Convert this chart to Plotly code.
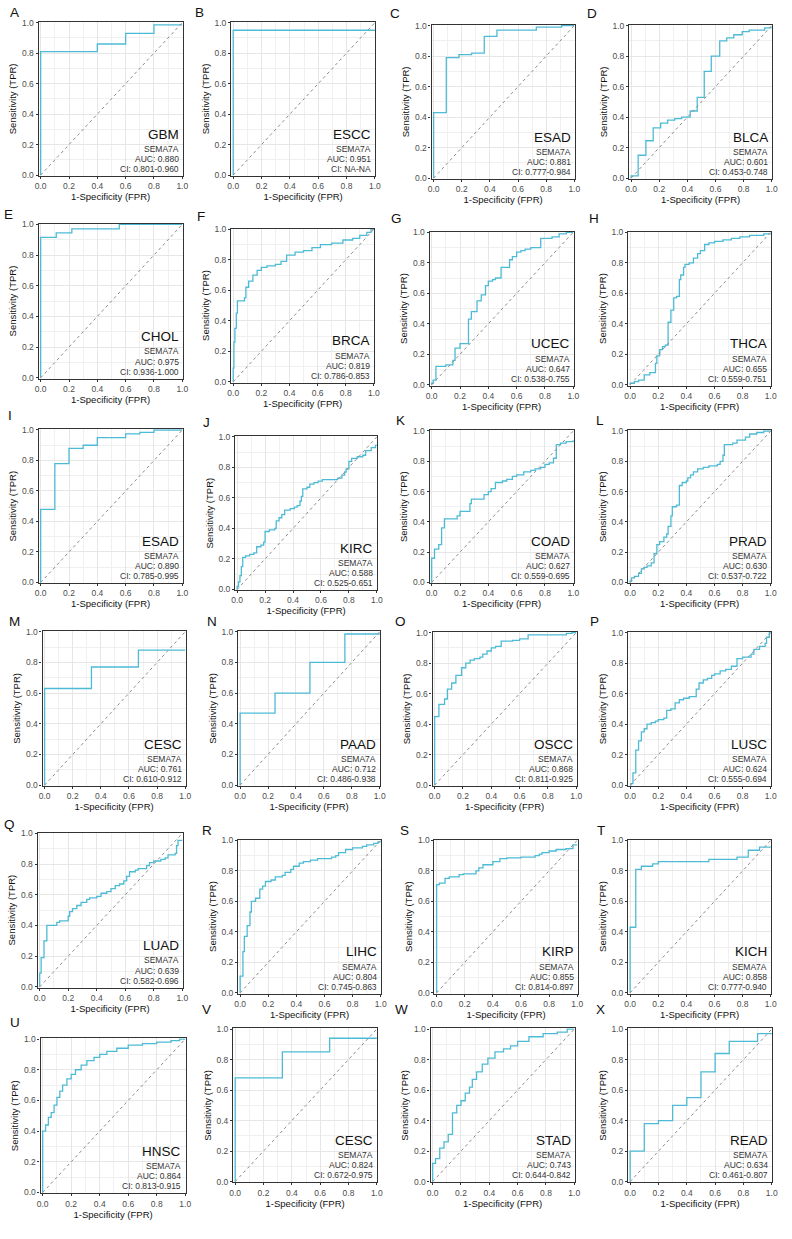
import plotly.graph_objects as go

# ---------------- data ----------------
letters = list("ABCDEFGHIJKLMNOPQRSTUVWX")
cancers = ["GBM", "ESCC", "ESAD", "BLCA", "CHOL", "BRCA", "UCEC", "THCA",
           "ESAD", "KIRC", "COAD", "PRAD", "CESC", "PAAD", "OSCC", "LUSC",
           "LUAD", "LIHC", "KIRP", "KICH", "HNSC", "CESC", "STAD", "READ"]
gene = "SEMA7A"
auc = ["0.880", "0.951", "0.881", "0.601", "0.975", "0.819", "0.647", "0.655",
       "0.890", "0.588", "0.627", "0.630", "0.761", "0.712", "0.868", "0.624",
       "0.639", "0.804", "0.855", "0.858", "0.864", "0.824", "0.743", "0.634"]
ci = ["0.801-0.960", "NA-NA", "0.777-0.984", "0.453-0.748", "0.936-1.000",
      "0.786-0.853", "0.538-0.755", "0.559-0.751", "0.785-0.995", "0.525-0.651",
      "0.559-0.695", "0.537-0.722", "0.610-0.912", "0.486-0.938", "0.811-0.925",
      "0.555-0.694", "0.582-0.696", "0.745-0.863", "0.814-0.897", "0.777-0.940",
      "0.813-0.915", "0.672-0.975", "0.644-0.842", "0.461-0.807"]

fpr_A = [0, 0, 0.4, 0.6, 0.8, 1.0]
tpr_A = [0, 0.81, 0.86, 0.93, 0.985, 0.985]
fpr_B = [0, 0, 1.0]
tpr_B = [0, 0.95, 0.95]
fpr_C = [0, 0, 0.09, 0.18, 0.27, 0.36, 0.45, 0.73, 0.91, 1.0]
tpr_C = [0, 0.43, 0.79, 0.81, 0.82, 0.93, 0.97, 0.99, 1.0, 1.0]
fpr_D = [0, 0, 0.05, 0.105, 0.157, 0.21, 0.26, 0.31, 0.36, 0.42, 0.47, 0.52, 0.57, 0.63, 0.68, 0.73, 0.79, 0.84, 0.95, 1.0]
tpr_D = [0, 0.015, 0.15, 0.245, 0.33, 0.36, 0.38, 0.39, 0.40, 0.44, 0.53, 0.70, 0.80, 0.90, 0.92, 0.94, 0.96, 0.97, 0.985, 0.985]
fpr_E = [0, 0, 0.11, 0.22, 0.555, 1.0]
tpr_E = [0, 0.915, 0.945, 0.97, 1.0, 1.0]
fpr_F = [0, 0, 0.005, 0.012, 0.022, 0.03, 0.08, 0.09, 0.11, 0.14, 0.17, 0.2, 0.24, 0.3, 0.34, 0.38, 0.44, 0.5, 0.56, 0.62, 0.7, 0.78, 0.85, 0.9, 0.95, 0.98, 1.0]
tpr_F = [0, 0.09, 0.26, 0.35, 0.45, 0.53, 0.55, 0.62, 0.66, 0.70, 0.73, 0.75, 0.76, 0.77, 0.79, 0.83, 0.85, 0.86, 0.88, 0.90, 0.91, 0.93, 0.94, 0.96, 0.98, 1.0, 1.0]
fpr_G = [0, 0, 0.01, 0.03, 0.1, 0.15, 0.165, 0.2, 0.26, 0.28, 0.32, 0.35, 0.38, 0.4, 0.43, 0.45, 0.49, 0.55, 0.57, 0.6, 0.63, 0.66, 0.7, 0.77, 0.85, 0.9, 0.95, 1.0]
tpr_G = [0, 0.01, 0.03, 0.12, 0.13, 0.16, 0.24, 0.27, 0.43, 0.48, 0.55, 0.59, 0.65, 0.68, 0.69, 0.70, 0.77, 0.82, 0.84, 0.87, 0.88, 0.89, 0.90, 0.96, 0.97, 0.99, 1.0, 1.0]
fpr_H = [0, 0, 0.03, 0.06, 0.1, 0.14, 0.18, 0.19, 0.21, 0.23, 0.25, 0.27, 0.29, 0.31, 0.33, 0.35, 0.36, 0.38, 0.39, 0.42, 0.45, 0.48, 0.5, 0.53, 0.56, 0.6, 0.66, 0.72, 0.78, 0.85, 0.95, 1.0]
tpr_H = [0, 0.01, 0.02, 0.03, 0.065, 0.08, 0.14, 0.19, 0.23, 0.25, 0.26, 0.41, 0.49, 0.57, 0.58, 0.69, 0.72, 0.77, 0.79, 0.80, 0.83, 0.86, 0.88, 0.92, 0.93, 0.94, 0.95, 0.96, 0.97, 0.98, 0.99, 0.99]
fpr_I = [0, 0, 0.1, 0.2, 0.3, 0.4, 0.6, 0.7, 0.8, 1.0]
tpr_I = [0, 0.48, 0.78, 0.88, 0.90, 0.95, 0.975, 0.985, 1.0, 1.0]
fpr_J = [0, 0, 0.01, 0.02, 0.03, 0.04, 0.06, 0.09, 0.12, 0.14, 0.17, 0.19, 0.2, 0.23, 0.27, 0.28, 0.3, 0.32, 0.34, 0.38, 0.41, 0.43, 0.45, 0.46, 0.47, 0.5, 0.52, 0.55, 0.58, 0.61, 0.72, 0.75, 0.77, 0.78, 0.8, 0.82, 0.86, 0.9, 0.92, 0.96, 0.99, 1.0]
tpr_J = [0, 0.02, 0.05, 0.09, 0.15, 0.21, 0.22, 0.23, 0.24, 0.28, 0.29, 0.31, 0.38, 0.39, 0.40, 0.45, 0.47, 0.49, 0.52, 0.53, 0.54, 0.55, 0.58, 0.61, 0.66, 0.67, 0.69, 0.70, 0.71, 0.72, 0.73, 0.75, 0.77, 0.79, 0.84, 0.86, 0.87, 0.88, 0.91, 0.93, 0.945, 0.945]
fpr_K = [0, 0, 0.02, 0.05, 0.07, 0.09, 0.18, 0.2, 0.27, 0.28, 0.37, 0.4, 0.42, 0.45, 0.5, 0.53, 0.57, 0.6, 0.65, 0.7, 0.73, 0.77, 0.8, 0.83, 0.86, 0.88, 0.91, 0.95, 1.0]
tpr_K = [0, 0.16, 0.22, 0.25, 0.36, 0.42, 0.44, 0.47, 0.52, 0.55, 0.58, 0.60, 0.62, 0.66, 0.67, 0.68, 0.70, 0.71, 0.73, 0.74, 0.75, 0.76, 0.78, 0.79, 0.82, 0.91, 0.92, 0.93, 0.94]
fpr_L = [0, 0, 0.01, 0.03, 0.06, 0.08, 0.1, 0.12, 0.15, 0.17, 0.19, 0.21, 0.24, 0.26, 0.27, 0.29, 0.3, 0.33, 0.35, 0.37, 0.4, 0.41, 0.43, 0.45, 0.48, 0.52, 0.56, 0.62, 0.64, 0.66, 0.67, 0.73, 0.76, 0.82, 0.85, 0.9, 0.95, 1.0]
tpr_L = [0, 0.01, 0.03, 0.04, 0.06, 0.09, 0.10, 0.11, 0.13, 0.19, 0.25, 0.27, 0.30, 0.32, 0.37, 0.44, 0.50, 0.51, 0.64, 0.66, 0.67, 0.69, 0.71, 0.73, 0.75, 0.76, 0.77, 0.78, 0.80, 0.84, 0.91, 0.92, 0.94, 0.96, 0.98, 0.99, 1.0, 1.0]
fpr_M = [0, 0, 0.333, 0.667, 1.0]
tpr_M = [0, 0.63, 0.77, 0.88, 0.88]
fpr_N = [0, 0, 0.25, 0.5, 0.75, 1.0]
tpr_N = [0, 0.47, 0.60, 0.80, 0.985, 0.985]
fpr_O = [0, 0, 0.03, 0.07, 0.09, 0.12, 0.15, 0.19, 0.22, 0.25, 0.28, 0.32, 0.34, 0.37, 0.4, 0.43, 0.47, 0.55, 0.6, 0.66, 0.93, 0.97, 1.0]
tpr_O = [0, 0.45, 0.53, 0.565, 0.63, 0.67, 0.72, 0.77, 0.80, 0.82, 0.83, 0.84, 0.86, 0.88, 0.90, 0.91, 0.945, 0.95, 0.96, 0.985, 0.995, 1.0, 1.0]
fpr_P = [0, 0.005, 0.02, 0.04, 0.06, 0.08, 0.1, 0.12, 0.15, 0.18, 0.2, 0.24, 0.26, 0.29, 0.32, 0.35, 0.38, 0.42, 0.47, 0.49, 0.52, 0.55, 0.58, 0.6, 0.64, 0.68, 0.72, 0.76, 0.8, 0.86, 0.88, 0.92, 0.96, 0.97, 0.99, 1.0]
tpr_P = [0, 0.01, 0.08, 0.23, 0.29, 0.35, 0.37, 0.40, 0.41, 0.42, 0.43, 0.44, 0.49, 0.50, 0.54, 0.56, 0.57, 0.58, 0.63, 0.67, 0.69, 0.70, 0.72, 0.73, 0.75, 0.76, 0.78, 0.83, 0.84, 0.86, 0.89, 0.91, 0.93, 0.97, 1.0, 1.0]
fpr_Q = [0, 0, 0.01, 0.03, 0.05, 0.12, 0.14, 0.2, 0.21, 0.23, 0.26, 0.29, 0.33, 0.35, 0.4, 0.43, 0.47, 0.5, 0.53, 0.56, 0.59, 0.61, 0.63, 0.67, 0.69, 0.75, 0.77, 0.8, 0.85, 0.88, 0.9, 0.95, 0.96, 0.97, 1.0]
tpr_Q = [0, 0.09, 0.19, 0.30, 0.40, 0.42, 0.43, 0.46, 0.49, 0.51, 0.53, 0.55, 0.57, 0.58, 0.59, 0.61, 0.62, 0.64, 0.66, 0.67, 0.69, 0.72, 0.75, 0.76, 0.77, 0.79, 0.81, 0.82, 0.83, 0.84, 0.86, 0.87, 0.92, 0.955, 0.955]
fpr_R = [0, 0, 0.02, 0.03, 0.05, 0.07, 0.08, 0.11, 0.14, 0.16, 0.18, 0.22, 0.25, 0.3, 0.32, 0.36, 0.38, 0.42, 0.45, 0.5, 0.55, 0.65, 0.68, 0.7, 0.75, 0.8, 0.87, 0.9, 0.95, 0.98, 1.0]
tpr_R = [0, 0.11, 0.27, 0.37, 0.44, 0.53, 0.60, 0.62, 0.68, 0.70, 0.73, 0.74, 0.76, 0.77, 0.79, 0.81, 0.83, 0.85, 0.86, 0.87, 0.88, 0.89, 0.90, 0.92, 0.94, 0.95, 0.96, 0.97, 0.98, 0.99, 0.99]
fpr_S = [0, 0, 0.02, 0.06, 0.09, 0.16, 0.19, 0.28, 0.3, 0.33, 0.4, 0.45, 0.5, 0.6, 0.7, 0.73, 0.75, 0.8, 0.85, 0.92, 0.97, 1.0]
tpr_S = [0, 0.71, 0.72, 0.75, 0.76, 0.775, 0.78, 0.80, 0.82, 0.84, 0.86, 0.88, 0.885, 0.89, 0.90, 0.91, 0.92, 0.93, 0.94, 0.945, 0.97, 0.97]
fpr_T = [0, 0, 0.04, 0.08, 0.16, 0.2, 0.56, 0.76, 0.84, 0.92, 1.0]
tpr_T = [0, 0.43, 0.81, 0.83, 0.845, 0.86, 0.875, 0.89, 0.935, 0.955, 0.955]
fpr_U = [0, 0, 0.02, 0.04, 0.06, 0.08, 0.1, 0.12, 0.14, 0.17, 0.2, 0.23, 0.27, 0.31, 0.36, 0.4, 0.45, 0.52, 0.6, 0.7, 0.8, 0.9, 0.96, 1.0]
tpr_U = [0, 0.40, 0.44, 0.49, 0.52, 0.57, 0.62, 0.66, 0.70, 0.74, 0.77, 0.80, 0.83, 0.86, 0.88, 0.90, 0.92, 0.94, 0.96, 0.97, 0.98, 0.99, 1.0, 1.0]
fpr_V = [0, 0, 0.333, 0.667, 1.0]
tpr_V = [0, 0.68, 0.85, 0.94, 0.94]
fpr_W = [0, 0, 0.02, 0.05, 0.08, 0.11, 0.14, 0.17, 0.2, 0.23, 0.26, 0.28, 0.31, 0.35, 0.39, 0.44, 0.5, 0.55, 0.6, 0.68, 0.78, 0.88, 0.95, 1.0]
tpr_W = [0, 0.12, 0.15, 0.22, 0.26, 0.31, 0.45, 0.50, 0.53, 0.58, 0.62, 0.67, 0.72, 0.77, 0.81, 0.85, 0.87, 0.89, 0.92, 0.95, 0.97, 0.98, 1.0, 1.0]
fpr_X = [0, 0, 0.1, 0.2, 0.3, 0.4, 0.5, 0.6, 0.7, 0.9, 1.0]
tpr_X = [0, 0.20, 0.38, 0.40, 0.50, 0.55, 0.72, 0.84, 0.92, 0.97, 0.97]

curves = {
    "A": (fpr_A, tpr_A), "B": (fpr_B, tpr_B), "C": (fpr_C, tpr_C), "D": (fpr_D, tpr_D),
    "E": (fpr_E, tpr_E), "F": (fpr_F, tpr_F), "G": (fpr_G, tpr_G), "H": (fpr_H, tpr_H),
    "I": (fpr_I, tpr_I), "J": (fpr_J, tpr_J), "K": (fpr_K, tpr_K), "L": (fpr_L, tpr_L),
    "M": (fpr_M, tpr_M), "N": (fpr_N, tpr_N), "O": (fpr_O, tpr_O), "P": (fpr_P, tpr_P),
    "Q": (fpr_Q, tpr_Q), "R": (fpr_R, tpr_R), "S": (fpr_S, tpr_S), "T": (fpr_T, tpr_T),
    "U": (fpr_U, tpr_U), "V": (fpr_V, tpr_V), "W": (fpr_W, tpr_W), "X": (fpr_X, tpr_X),
}

# ---------------- layout (pixel boxes: x0, x1, y0, y1) ----------------
W, H = 792, 1239
boxes = [
    (35, 181, 18, 173), (230, 376, 18, 173), (433, 578, 21, 176), (633, 778, 21, 176),
    (35, 181, 221, 377), (230, 375, 226, 381), (431, 577, 229, 384), (632, 777, 229, 384),
    (35, 181, 428, 583), (234, 378, 435, 590), (431, 577, 429, 583), (632, 777, 429, 583),
    (39, 184, 631, 787), (237, 381, 631, 787), (434, 580, 632, 787), (632, 777, 632, 787),
    (34, 181, 834, 990), (237, 382, 841, 996), (436, 581, 841, 996), (632, 777, 841, 996),
    (37, 184, 1041, 1197), (232, 378, 1031, 1186), (432, 578, 1031, 1186), (632, 778, 1031, 1186),
]
label_pos = [
    (11, 9), (198, 9), (396, 10), (596, 10),
    (5, 212), (200, 214), (398, 216), (598, 216),
    (6, 414), (205, 421), (402, 419), (604, 419),
    (11, 622), (211, 622), (402, 622), (598, 622),
    (6, 826), (206, 832), (406, 832), (605, 832),
    (11, 1025), (205, 1012), (403, 1012), (604, 1012),
]

FONT = "Liberation Sans, Arial, sans-serif"
CURVE = "#4DBBD5"

fig = go.Figure()
annotations = []
layout = dict(width=W, height=H, margin=dict(l=0, r=0, t=0, b=0),
              paper_bgcolor="white", plot_bgcolor="white", showlegend=False,
              font=dict(family=FONT, color="#222222"))

for i, L in enumerate(letters):
    n = i + 1
    xs = "" if n == 1 else str(n)
    x0, x1, y0, y1 = boxes[i]
    fx, ty = curves[L]
    fig.add_trace(go.Scatter(x=fx, y=ty, mode="lines", line=dict(color=CURVE, width=1.3, shape="hv"),
                             xaxis="x" + xs, yaxis="y" + xs, hoverinfo="skip"))
    fig.add_trace(go.Scatter(x=[0, 1], y=[0, 1], mode="lines",
                             line=dict(color="#8c8c8c", width=1, dash="3px,3px"),
                             xaxis="x" + xs, yaxis="y" + xs, hoverinfo="skip"))
    common = dict(showline=True, mirror=True, linecolor="#333333", linewidth=1.1,
                  ticks="outside", ticklen=2, tickwidth=0.8, tickcolor="#333333",
                  tickfont=dict(size=8.5, color="#4d4d4d", family=FONT),
                  tickvals=[0, 0.2, 0.4, 0.6, 0.8, 1.0],
                  ticktext=["0.0", "0.2", "0.4", "0.6", "0.8", "1.0"],
                  showgrid=True, gridcolor="#e6e6e6", gridwidth=0.8,
                  minor=dict(tickvals=[0.1, 0.3, 0.5, 0.7, 0.9], showgrid=True,
                             gridcolor="#f0f0f0", gridwidth=0.6, ticks=""),
                  zeroline=False, fixedrange=True)
    layout["xaxis" + xs] = dict(common, domain=[x0 / W, x1 / W], anchor="y" + xs,
                                range=[-0.015, 1.003],
                                title=dict(text="1-Specificity (FPR)", standoff=2,
                                           font=dict(size=9.5, color="#111111", family=FONT)))
    layout["yaxis" + xs] = dict(common, domain=[1 - y1 / H, 1 - y0 / H], anchor="x" + xs,
                                range=[-0.005, 1.005],
                                title=dict(text="Sensitivity (TPR)", standoff=3,
                                           font=dict(size=9.5, color="#111111", family=FONT)))
    dref = dict(xref="x" + xs + " domain", yref="y" + xs + " domain", xanchor="right",
                yanchor="middle", showarrow=False, x=0.985)
    annotations.append(dict(dref, text=cancers[i], y=0.27, font=dict(size=13.5, color="#111111", family=FONT)))
    annotations.append(dict(dref, text=gene, y=0.175, font=dict(size=8.5, color="#333333", family=FONT)))
    annotations.append(dict(dref, text="AUC: " + auc[i], y=0.11, font=dict(size=8.5, color="#333333", family=FONT)))
    annotations.append(dict(dref, text="CI: " + ci[i], y=0.045, font=dict(size=8.5, color="#333333", family=FONT)))
    lx, ly = label_pos[i]
    annotations.append(dict(xref="paper", yref="paper", x=lx / W, y=1 - ly / H, text=L,
                            xanchor="center", yanchor="middle", showarrow=False,
                            font=dict(size=13.5, color="#111111", family=FONT)))

layout["annotations"] = annotations
fig.update_layout(**layout)
fig.write_html("out.html", config={"displayModeBar": False},
               post_script="document.body.style.margin='0px';document.body.style.padding='0px';")
